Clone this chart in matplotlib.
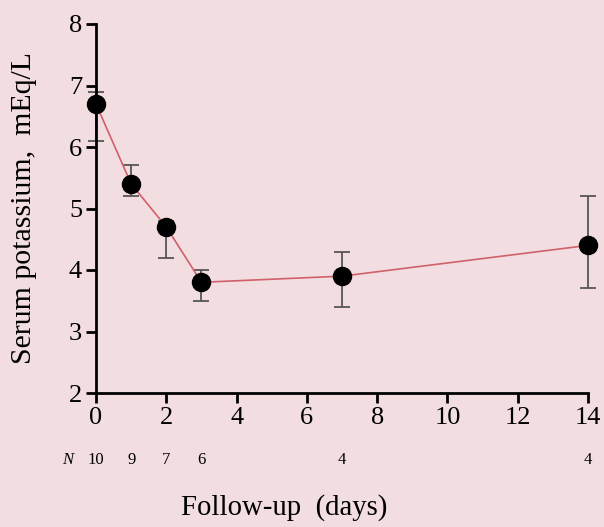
import matplotlib
matplotlib.use('Agg')
import matplotlib.pyplot as plt

# follow-up data
days = [0, 1, 2, 3, 7, 14]
potassium = [6.7, 5.4, 4.7, 3.8, 3.9, 4.4]
err_low = [6.1, 5.2, 4.2, 3.5, 3.4, 3.7]
err_high = [6.9, 5.7, 4.8, 4.0, 4.3, 5.2]
n_patients = ['10', '9', '7', '6', '4', '4']
xticks = [0, 2, 4, 6, 8, 10, 12, 14]
yticks = [2, 3, 4, 5, 6, 7, 8]

bg = '#f2dde0'
plt.rcParams['font.family'] = ['Liberation Serif', 'DejaVu Serif']

fig = plt.figure(figsize=(6.04, 5.27), dpi=100, facecolor=bg)
ax = fig.add_axes([96/604, 1 - 393/527, (588-96)/604, (393-24)/527])
ax.set_facecolor(bg)

yerr = [[p - lo for p, lo in zip(potassium, err_low)],
        [hi - p for p, hi in zip(potassium, err_high)]]
ax.errorbar(days, potassium, yerr=yerr, fmt='none', ecolor='#555555',
            elinewidth=1.3, capsize=6, capthick=1.3, zorder=2, clip_on=False)
ax.plot(days, potassium, color='#d0606a', linewidth=1.2, zorder=3, clip_on=False)
ax.plot(days, potassium, 'o', color='black', markersize=13, zorder=4, clip_on=False)

ax.set_xlim(0, 14)
ax.set_ylim(2, 8)
ax.set_xticks(xticks)
ax.set_yticks(yticks)
ax.spines['top'].set_visible(False)
ax.spines['right'].set_visible(False)
for s in ['left', 'bottom']:
    ax.spines[s].set_linewidth(2)
ax.tick_params(width=2, length=7, labelsize=19, pad=3)

# number of patients row
for d, n in zip(days, n_patients):
    ax.annotate(n, xy=(d, 0), xycoords=('data', 'axes fraction'),
                xytext=(0, -67), textcoords='offset pixels',
                ha='center', va='center', fontsize=12)
ax.annotate('N', xy=(0, 0), xycoords=('data', 'axes fraction'),
            xytext=(-28, -67), textcoords='offset pixels',
            ha='center', va='center', fontsize=12, style='italic')

fig.text(24/604, 1 - 208/527, 'Serum potassium,  mEq/L', rotation=90,
         ha='center', va='center', fontsize=21.5)
fig.text(284/604, 1 - 508/527, 'Follow-up  (days)', ha='center', va='center',
         fontsize=20.7)

fig.savefig('out.png', dpi=100, facecolor=bg)
